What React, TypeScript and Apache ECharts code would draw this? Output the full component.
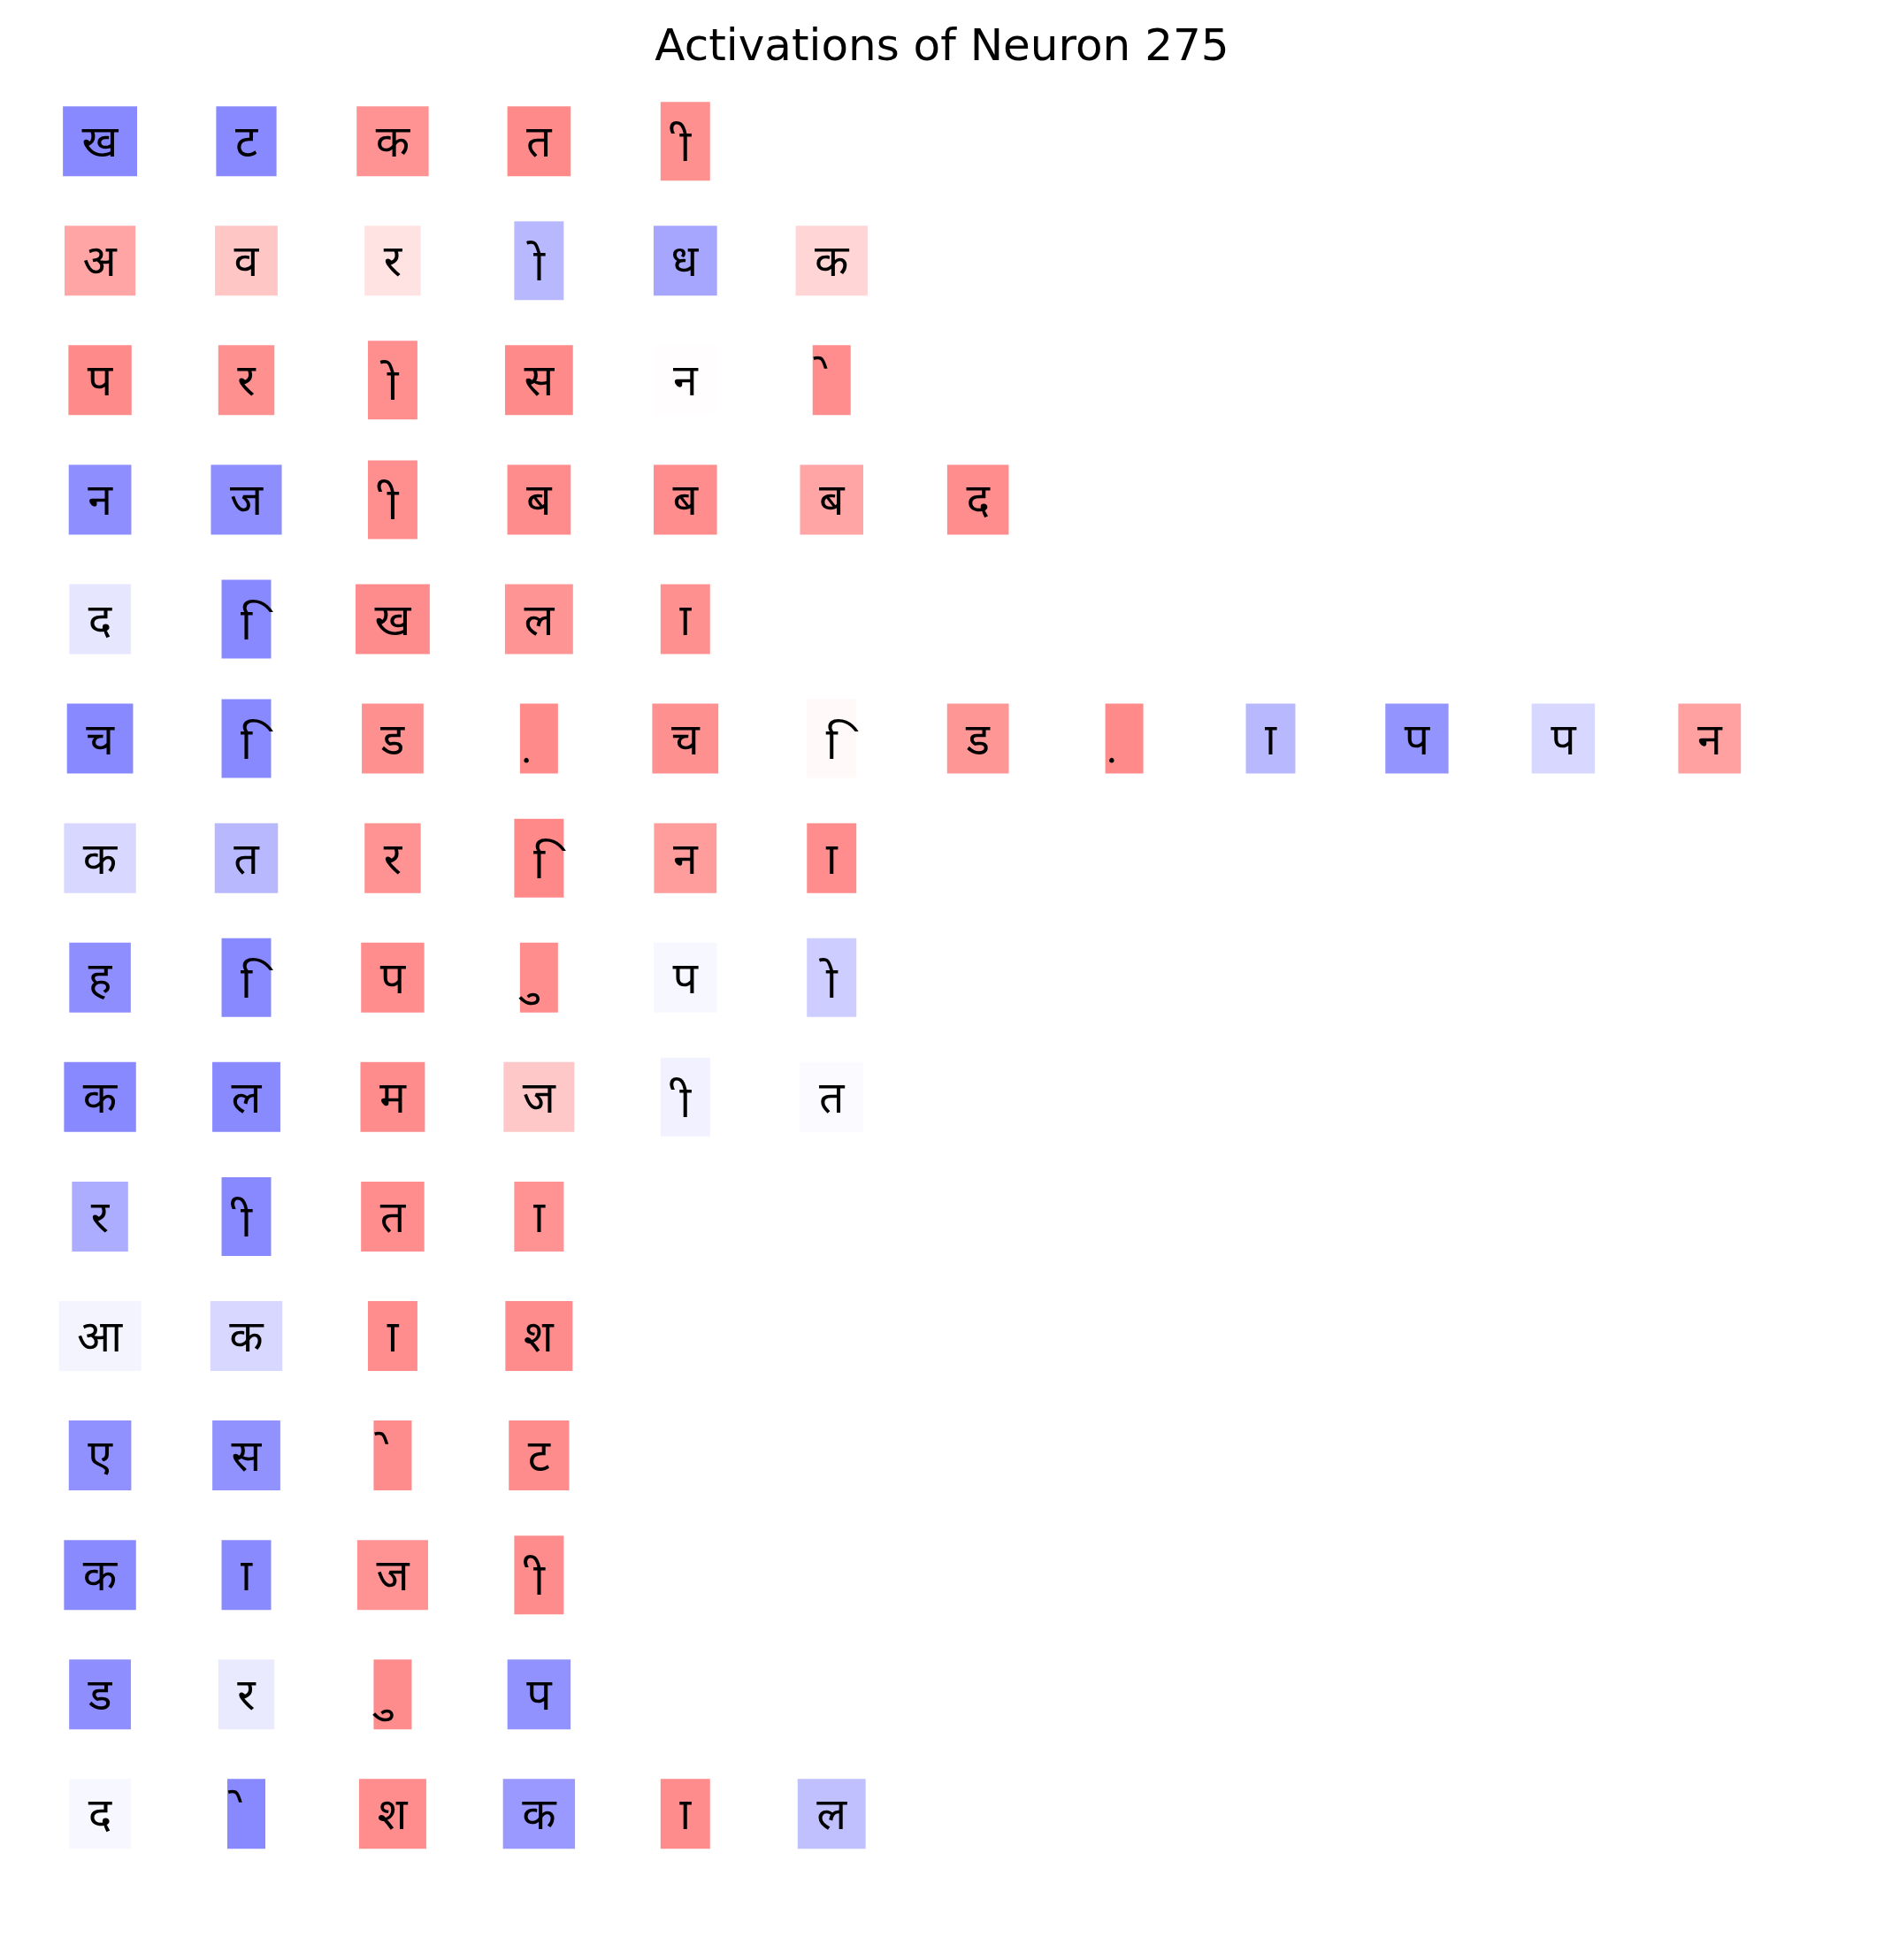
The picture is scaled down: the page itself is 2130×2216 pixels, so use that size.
import React, { useEffect, useRef } from "react";
import * as echarts from "echarts";

const TITLE = "Activations of Neuron 275";

const rowTokens: string[][] = [
  ["ख", "ट", "क", "त", "ी"],
  ["अ", "व", "र", "ो", "ध", "क"],
  ["प", "र", "ो", "स", "न", "े"],
  ["न", "ज", "ी", "ब", "ब", "ब", "द"],
  ["द", "ि", "ख", "ल", "ा"],
  ["च", "ि", "ड", "़", "च", "ि", "ड", "़", "ा", "प", "प", "न"],
  ["क", "त", "र", "ि", "न", "ा"],
  ["ह", "ि", "प", "ु", "प", "ो"],
  ["क", "ल", "म", "ज", "ी", "त"],
  ["र", "ी", "त", "ा"],
  ["आ", "क", "ा", "श"],
  ["ए", "स", "े", "ट"],
  ["क", "ा", "ज", "ी"],
  ["ड", "र", "ु", "प"],
  ["द", "े", "श", "क", "ा", "ल"],
];

const rowActivations: number[][] = [
  [-1, -1, 0.92, 0.98, 0.93],
  [0.76, 0.48, 0.24, -0.6, -0.75, 0.35],
  [0.98, 0.93, 0.94, 0.98, 0.02, 0.96],
  [-0.95, -0.95, 0.95, 0.97, 0.96, 0.76, 0.96],
  [-0.21, -1, 0.97, 0.9, 0.93],
  [-1, -1, 0.93, 0.98, 0.93, 0.05, 0.88, 0.98, -0.6, -0.9, -0.34, 0.79],
  [-0.34, -0.6, 0.92, 1, 0.83, 0.96],
  [-0.95, -1, 0.96, 0.96, -0.07, -0.42],
  [-1, -0.98, 0.97, 0.46, -0.12, -0.04],
  [-0.69, -1, 0.96, 0.92],
  [-0.09, -0.34, 0.96, 0.97],
  [-0.93, -0.92, 0.97, 0.97],
  [-0.98, -0.98, 0.92, 0.97],
  [-0.95, -0.18, 0.97, -0.92],
  [-0.07, -1, 0.96, -0.86, 0.97, -0.53],
];

const FONT_SIZE = 50;
const FONT_FAMILY = "'Noto Sans Devanagari', 'Noto Sans', 'DejaVu Sans', sans-serif";
const FONT = `${FONT_SIZE}px ${FONT_FAMILY}`;
const PAD = 21.5;
const BOX_H = 79;
const TEXT_DY = 5;
const NBSP = "\u00A0";
const PREBASE = new Set(["ि"]);

function colorFor(v: number): string {
  const a = Math.min(1, Math.abs(v));
  const c = Math.round(255 - 119 * a);
  return v >= 0 ? `rgb(255,${c},${c})` : `rgb(${c},${c},255)`;
}

let ctx: CanvasRenderingContext2D | null = null;
function measure(text: string) {
  if (!ctx) {
    const cv = document.createElement("canvas");
    ctx = cv.getContext("2d");
  }
  ctx!.font = FONT;
  const m = ctx!.measureText(text);
  return {
    width: m.width,
    inkLeft: -m.actualBoundingBoxLeft,
    inkRight: m.actualBoundingBoxRight,
    ascent: m.actualBoundingBoxAscent,
  };
}

const isMark = (t: string) => t.length === 1 && /[\u0900-\u0903\u093A-\u094F\u0951-\u0957\u0962\u0963]/.test(t);
const clamp = (v: number, a: number, b: number) => Math.max(a, Math.min(b, v));

function layoutToken(tok: string, refAscent: number) {
  const mark = isMark(tok);
  const text = mark ? NBSP + tok : tok;
  const m = measure(text);
  const nb = mark ? measure(NBSP).width : 0;
  const offset = mark && !PREBASE.has(tok) ? nb : 0;
  const adv = m.width - nb;
  const l = clamp(m.inkLeft - offset, 0, adv);
  const r = clamp(m.inkRight - offset, 0, adv);
  const extra = adv > 0.5 ? Math.max(0, m.ascent - (refAscent + 4)) : 0;
  return { text, offset, l, r, extra };
}

export default function App() {
  const ref = useRef<HTMLDivElement>(null);
  useEffect(() => {
    document.body.style.margin = "0";
    const chart = echarts.init(ref.current!, undefined, { renderer: "svg" });
    const cells: { tok: string; col: number; row: number; v: number }[] = [];
    rowTokens.forEach((r, i) =>
      r.forEach((tok, j) => cells.push({ tok, col: j, row: i, v: rowActivations[i][j] }))
    );
    const refAscent = measure("क").ascent;
    chart.setOption({
      animation: false,
      backgroundColor: "#ffffff",
      title: {
        text: TITLE,
        left: "center",
        top: 21,
        textStyle: { fontFamily: "DejaVu Sans", fontSize: 50, fontWeight: "normal", color: "#000" },
      },
      grid: { left: 0, right: 0, top: 0, bottom: 0 },
      xAxis: { type: "value", min: -0.6835, max: 12.192, show: false },
      yAxis: { type: "value", min: -1.1823, max: 15.223, inverse: true, show: false },
      series: [
        {
          type: "custom",
          data: cells.map((c) => [c.col, c.row, c.v]),
          renderItem: (params: any, api: any) => {
            const cell = cells[params.dataIndex];
            const [cx, cy] = api.coord([api.value(0), api.value(1)]);
            const lt = layoutToken(cell.tok, refAscent);
            const w = lt.r - lt.l + 2 * PAD;
            const h = BOX_H + lt.extra;
            const bx = cx - w / 2;
            return {
              type: "group",
              children: [
                {
                  type: "rect",
                  shape: { x: bx, y: cy - h / 2, width: w, height: h },
                  style: { fill: colorFor(api.value(2)) },
                },
                {
                  type: "text",
                  x: bx + PAD - lt.l - lt.offset,
                  y: cy + TEXT_DY + lt.extra / 2,
                  style: {
                    text: lt.text,
                    font: FONT,
                    fill: "#000",
                    align: "left",
                    verticalAlign: "middle",
                  },
                },
              ],
            };
          },
        },
      ],
    });
    return () => chart.dispose();
  }, []);
  return <div ref={ref} style={{ width: 2130, height: 2216 }} />;
}
